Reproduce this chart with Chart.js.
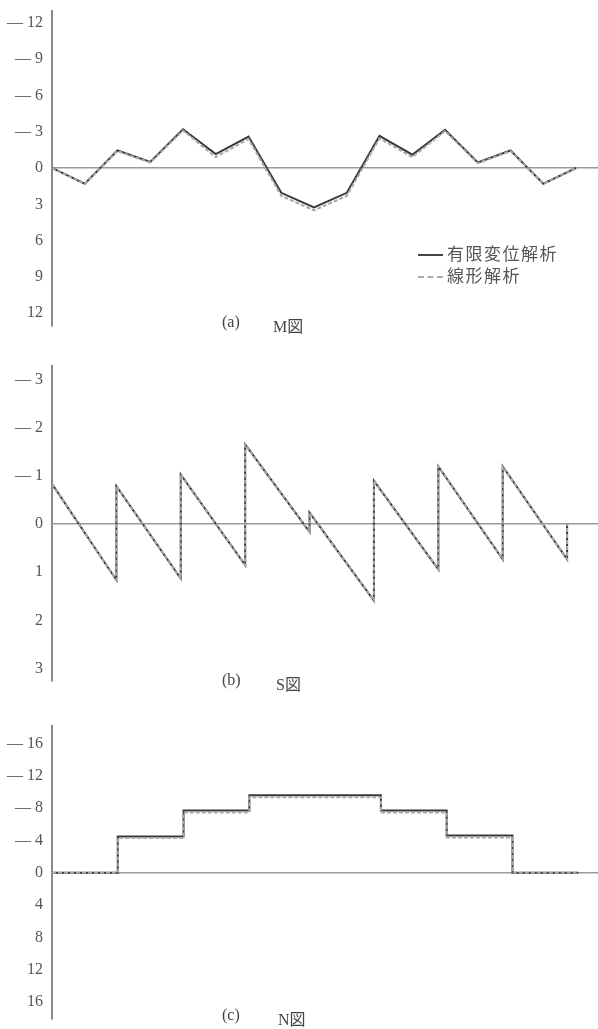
<!DOCTYPE html>
<html>
<head>
<meta charset="utf-8">
<script src="https://cdn.jsdelivr.net/npm/chart.js@4.4.0/dist/chart.umd.min.js"></script>
<style>
  body { margin: 0; background: #fff; width: 598px; height: 1029px; position: relative; overflow: hidden; }
  canvas { position: absolute; left: 0; }
  .cap { position: absolute; font-family: "Liberation Serif", serif; font-size: 16px; color: #444; white-space: nowrap; }
  .cap .jp { font-family: "Noto Sans CJK JP", sans-serif; font-size: 16px; }
  .legend { position: absolute; left: 418px; font-family: "Noto Sans CJK JP", sans-serif; font-size: 17px; letter-spacing: 1.5px; color: #555; white-space: nowrap; }
  .legend span.l { display: inline-block; width: 25px; vertical-align: middle; margin-right: 4px; }
</style>
</head>
<body>
<canvas id="chartM" width="598" height="352" style="top:-8px"></canvas>
<canvas id="chartS" width="598" height="352" style="top:347px"></canvas>
<canvas id="chartN" width="598" height="330" style="top:707px"></canvas>

<div class="legend" style="top:240px"><span class="l" style="border-top:2px solid #444"></span>有限変位解析</div>
<div class="legend" style="top:262px"><span class="l" style="border-top:2px dashed #aaa"></span>線形解析</div>

<div class="cap" style="left:222px;top:313px">(a)</div>
<div class="cap" style="left:273px;top:313px">M<span class="jp">図</span></div>
<div class="cap" style="left:222px;top:671px">(b)</div>
<div class="cap" style="left:276px;top:671px">S<span class="jp">図</span></div>
<div class="cap" style="left:222px;top:1006px">(c)</div>
<div class="cap" style="left:278px;top:1006px">N<span class="jp">図</span></div>

<script>
// (a) M図  -- node positions and moments (positive = downward)
const mX = [0, 1, 2, 3, 4, 5, 6, 7, 8, 9, 10, 11, 12, 13, 14, 15, 16];
const mFinite = [0, 1.3, -1.45, -0.5, -3.2, -1.15, -2.6, 2.05, 3.25, 2.05, -2.65, -1.1, -3.15, -0.45, -1.45, 1.3, 0];
const mLinear = [0, 1.3, -1.4, -0.45, -3.1, -0.9, -2.4, 2.3, 3.5, 2.3, -2.45, -0.9, -3.05, -0.4, -1.4, 1.3, 0];
const mTicks = [-12, -9, -6, -3, 0, 3, 6, 9, 12];

// (b) S図  -- jumps at every second node
const sX = [0, 2, 2, 4, 4, 6, 6, 8, 8, 10, 10, 12, 12, 14, 14, 16, 16];
const sFinite = [-0.84, 1.16, -0.79, 1.13, -1.03, 0.85, -1.66, 0.16, -0.24, 1.59, -0.9, 0.94, -1.2, 0.73, -1.2, 0.73, 0];
const sLinear = [-0.84, 1.16, -0.79, 1.13, -1.03, 0.85, -1.66, 0.16, -0.24, 1.59, -0.9, 0.94, -1.2, 0.73, -1.2, 0.73, 0];
const sTicks = [-3, -2, -1, 0, 1, 2, 3];

// (c) N図  -- stepped axial force
const nX = [0, 2, 2, 4, 4, 6, 6, 10, 10, 12, 12, 14, 14, 16];
const nFinite = [0, 0, -4.5, -4.5, -7.7, -7.7, -9.6, -9.6, -7.7, -7.7, -4.6, -4.6, 0, 0];
const nLinear = [0, 0, -4.3, -4.3, -7.45, -7.45, -9.35, -9.35, -7.45, -7.45, -4.35, -4.35, 0, 0];
const nTicks = [-16, -12, -8, -4, 0, 4, 8, 12, 16];

function pts(xs, ys) {
    return xs.map((x, i) => ({ x: x, y: ys[i] }));
}

function makeChart(id, xs, finite, linear, ticks, yMin, yMax, xMax) {
    const ctx = document.getElementById(id).getContext('2d');
    new Chart(ctx, {
        type: 'line',
        data: {
            datasets: [
                {
                    label: '線形解析',
                    data: pts(xs, linear),
                    borderColor: '#a8a8a8',
                    borderWidth: 2,
                    borderDash: [4, 2],
                    pointRadius: 0,
                    tension: 0
                },
                {
                    label: '有限変位解析',
                    data: pts(xs, finite),
                    borderColor: '#383838',
                    borderWidth: 2,
                    pointRadius: 0,
                    tension: 0
                }
            ]
        },
        options: {
            responsive: false,
            animation: false,
            layout: { padding: { top: 2, bottom: 1, left: 0, right: 0 } },
            plugins: { legend: { display: false }, tooltip: { enabled: false } },
            scales: {
                x: { type: 'linear', min: 0, max: xMax, display: false },
                y: {
                    reverse: true,
                    min: yMin,
                    max: yMax,
                    afterBuildTicks: s => { s.ticks = ticks.map(v => ({ value: v })); },
                    afterFit: s => { s.width = 52; },
                    ticks: {
                        callback: v => v < 0 ? '— ' + (-v) : String(v),
                        font: { family: 'Liberation Serif', size: 16 },
                        color: '#555',
                        padding: 9
                    },
                    grid: {
                        drawTicks: false,
                        color: c => (c.tick && c.tick.value === 0) ? '#9a9a9a' : 'rgba(0,0,0,0)',
                        lineWidth: 1.5
                    },
                    border: { color: '#8a8a8a', width: 2 }
                }
            }
        }
    });
}

makeChart('chartM', mX, mFinite, mLinear, mTicks, -13, 13, 16.67);
makeChart('chartS', sX, sFinite, sLinear, sTicks, -3.3, 3.25, 16.96);
makeChart('chartN', nX, nFinite, nLinear, nTicks, -18.2, 18, 16.6);
</script>
</body>
</html>
